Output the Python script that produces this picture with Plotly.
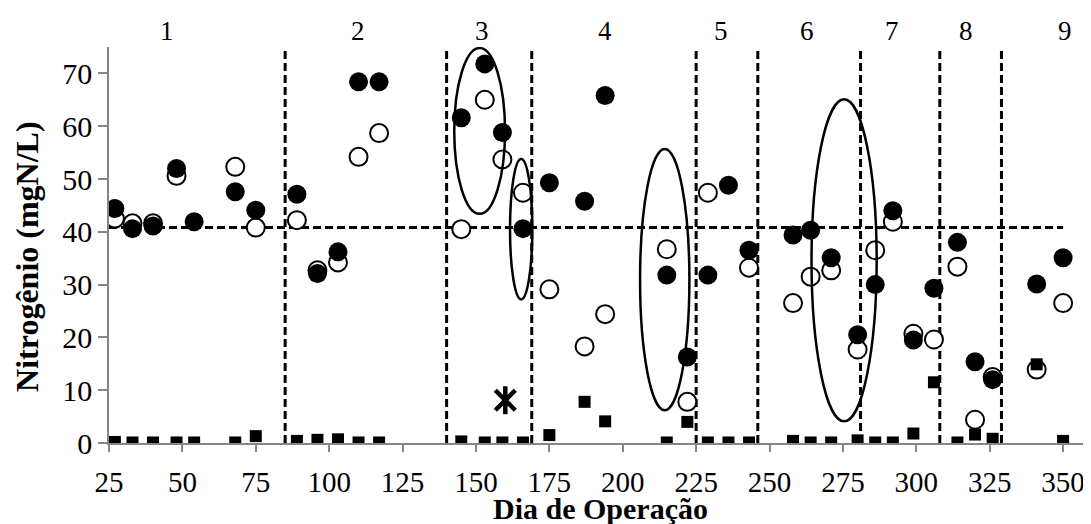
import plotly.graph_objects as go

# dias de amostragem
dias = [27, 33, 40, 48, 54, 68, 75, 89, 96, 103, 110, 117, 145, 153, 159, 166, 175, 187, 194,
        215, 222, 229, 236, 243, 258, 264, 271, 280, 286, 292, 299, 306, 314, 320, 326, 341, 350]

# circulos cheios
n_cheio = [44.4, 40.6, 41.1, 52.0, 41.9, 47.6, 44.1, 47.1, 32.1, 36.2, 68.4, 68.4, 61.6, 71.8, 58.8,
           40.6, 49.3, 45.8, 65.8, 31.8, 16.3, 31.8, 48.8, 36.5, 39.4, 40.3, 35.1, 20.5, 30.0, 44.0,
           19.5, 29.3, 38.0, 15.4, 12.0, 30.1, 35.1]

# circulos vazios
n_vazio = [42.5, 41.6, 41.6, 50.6, None, 52.3, 40.8, 42.2, 32.7, 34.2, 54.2, 58.7, 40.5, 65.0, 53.7,
           47.4, 29.1, 18.3, 24.4, 36.7, 7.8, 47.4, None, 33.2, 26.5, 31.5, 32.7, 17.7, 36.5, 41.9,
           20.7, 19.6, 33.4, 4.4, 12.5, 13.9, 26.5]

# quadrados
n_quadrado = [0.2, 0.1, 0.1, 0.1, 0.1, 0.1, 1.3, 0.4, 0.6, 0.7, 0.1, 0.1, 0.3, 0.1, 0.1, 0.1, 1.5,
              7.8, 4.1, 0.1, 4.0, 0.1, 0.1, 0.1, 0.4, 0.1, 0.1, 0.5, 0.1, 0.1, 1.8, 11.5, 0.1, 1.6,
              0.8, 14.9, 0.4]

# ponto marcado com asterisco
dia_asterisco = [160]
n_asterisco = [8.1]

# fases
limites_fases = [85, 140, 169, 225, 246, 281, 308, 329]
rotulos_fases = ['1', '2', '3', '4', '5', '6', '7', '8', '9']
x_rotulos_fases = [44.6, 109.7, 152, 194, 233.3, 262.6, 291.8, 316.9, 350.6]
linha_referencia = 40.8

# elipses de destaque (x0, x1, y0, y1)
elipses = [(142.6, 159.9, 43.4, 74.8), (161.6, 169.2, 27.2, 53.8),
           (205.9, 222.7, 6.2, 55.7), (264.3, 286.5, 4.1, 65.1)]

FONTE = 'Liberation Serif'
CINZA = '#868686'

fig = go.Figure()

fig.add_trace(go.Scatter(
    x=dias, y=n_vazio, mode='markers',
    marker=dict(symbol='circle', size=18, color='white', line=dict(color='black', width=2))
))
fig.add_trace(go.Scatter(
    x=dias, y=n_cheio, mode='markers',
    marker=dict(symbol='circle', size=19, color='black', line=dict(width=0))
))
fig.add_trace(go.Scatter(
    x=dias, y=n_quadrado, mode='markers',
    marker=dict(symbol='square', size=12, color='black', line=dict(width=0))
))
for simbolo in ['x-thin', 'line-ns']:
    fig.add_trace(go.Scatter(
        x=dia_asterisco, y=n_asterisco, mode='markers',
        marker=dict(symbol=simbolo, size=20, color='black', line=dict(color='black', width=4.5))
    ))

shapes = []
for xl in limites_fases:
    shapes.append(dict(type='line', xref='x', yref='y', x0=xl, x1=xl, y0=0, y1=75,
                       line=dict(color='black', width=3, dash='8px,4px'), layer='below'))
shapes.append(dict(type='line', xref='x', yref='y', x0=25, x1=350,
                   y0=linha_referencia, y1=linha_referencia,
                   line=dict(color='black', width=3, dash='8px,4px'), layer='below'))
for x0, x1, y0, y1 in elipses:
    shapes.append(dict(type='circle', xref='x', yref='y', x0=x0, x1=x1, y0=y0, y1=y1,
                       line=dict(color='black', width=2.5), layer='above'))

annotations = []
for rot, xr in zip(rotulos_fases, x_rotulos_fases):
    annotations.append(dict(text=rot, x=xr, xref='x', y=1.04, yref='paper', showarrow=False,
                            xanchor='center', yanchor='middle', font=dict(family=FONTE, size=27, color='black')))
annotations.append(dict(text='<b>Nitrogênio (mgN/L)</b>', x=-0.0835, xref='paper', y=0.47, yref='paper',
                        textangle=-90, showarrow=False, xanchor='center', yanchor='middle',
                        font=dict(family=FONTE, size=32, color='black')))
annotations.append(dict(text='<b>Dia de Operação</b>', x=0.5, xref='paper', y=-0.165, yref='paper',
                        showarrow=False, xanchor='center', yanchor='middle',
                        font=dict(family=FONTE, size=30, color='black')))

# a pagina tem margem de 8px no body: figura menor para caber na janela
fig.update_layout(
    width=1083, height=516,
    margin=dict(l=101, r=0, t=39, b=81),
    plot_bgcolor='white', paper_bgcolor='white',
    showlegend=False,
    shapes=shapes, annotations=annotations,
    font=dict(family=FONTE, size=30, color='black'),
)
fig.update_xaxes(range=[25, 359.5], tickvals=list(range(25, 351, 25)), showgrid=False, zeroline=False,
                 showline=True, linecolor=CINZA, linewidth=1.5,
                 ticks='outside', ticklen=7, tickcolor=CINZA, tickwidth=1.5, ticklabelstandoff=5,
                 tickfont=dict(family=FONTE, size=29, color='black'))
fig.update_yaxes(range=[0, 75], tickvals=list(range(0, 71, 10)), showgrid=False, zeroline=False,
                 showline=True, linecolor=CINZA, linewidth=1.5,
                 ticks='outside', ticklen=9, tickcolor=CINZA, tickwidth=1.5,
                 tickfont=dict(family=FONTE, size=30, color='black'))

fig.write_html("out.html")
